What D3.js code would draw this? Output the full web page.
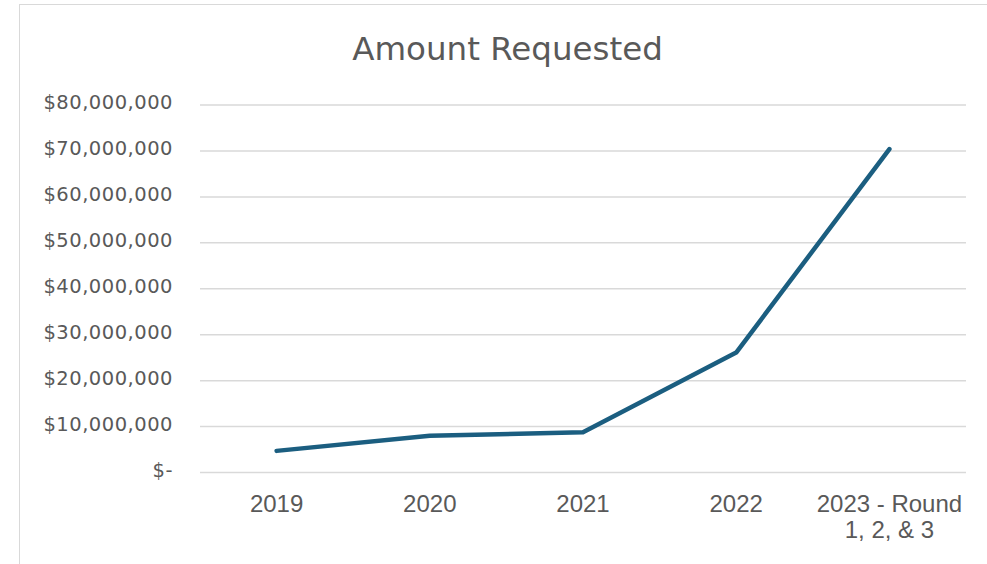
<!DOCTYPE html>
<html><head><meta charset="utf-8">
<script src="https://cdn.jsdelivr.net/npm/d3@7"></script>
<style>body{margin:0;background:#fff}svg{display:block}</style>
</head><body>
<svg id="c" width="987" height="564"></svg>
<script>
const categories = ["2019", "2020", "2021", "2022", "2023 - Round|1, 2, & 3"];
const amounts = [4600000, 7900000, 8650000, 26000000, 70300000];
const yTicks = [0, 10000000, 20000000, 30000000, 40000000, 50000000, 60000000, 70000000, 80000000];
const title = "Amount Requested";

const svg = d3.select("#c");
const fontY = "DejaVu Sans, Verdana, sans-serif";
const fontX = "Liberation Sans, Arial, sans-serif";
const grey = "#595959";

svg.append("rect").attr("x", 19.5).attr("y", 4.5).attr("width", 1000).attr("height", 600)
  .attr("fill", "#fff").attr("stroke", "#d9d9d9").attr("stroke-width", 1);

const m = {left: 200, right: 966, top: 104.5, bottom: 472};
const x = d3.scaleBand().domain(categories).range([m.left, m.right]);
const y = d3.scaleLinear().domain([0, 80000000]).range([m.bottom, m.top]);

svg.append("text").attr("x", 507.5).attr("y", 60).attr("text-anchor", "middle")
  .attr("font-family", fontY).attr("font-size", 32.5).attr("fill", grey).text(title);

const fmt = v => v === 0 ? "$-" : "$" + d3.format(",")(v);
const yAxis = svg.append("g").attr("transform", `translate(${m.left},0)`)
  .call(d3.axisLeft(y).tickValues(yTicks).tickFormat(fmt).tickSize(-(m.right - m.left)).tickPadding(27));
yAxis.select(".domain").remove();
yAxis.selectAll(".tick line").attr("stroke", "#d9d9d9").attr("stroke-width", 1.5);
yAxis.selectAll(".tick text").attr("font-family", fontY).attr("font-size", 19.5).attr("fill", grey)
  .attr("letter-spacing", 0.5).attr("dy", 4);

const xAxis = svg.append("g").attr("transform", `translate(0,${m.bottom})`)
  .call(d3.axisBottom(x).tickSize(0).tickPadding(0).tickFormat(""));
xAxis.select(".domain").remove();
xAxis.selectAll(".tick").each(function(d) {
  const t = d3.select(this).append("text").attr("font-family", fontX).attr("font-size", 24)
    .attr("fill", grey).attr("text-anchor", "middle");
  d.split("|").forEach((s, i) => {
    t.append("tspan").attr("x", 0).attr("y", 39.5 + i * 26.5).text(s);
  });
});

const line = d3.line().x((d, i) => x(categories[i]) + x.bandwidth() / 2).y(d => y(d));
svg.append("path").datum(amounts).attr("d", line).attr("fill", "none")
  .attr("stroke", "#1b5e80").attr("stroke-width", 4.5)
  .attr("stroke-linejoin", "round").attr("stroke-linecap", "round");
</script>
</body></html>
